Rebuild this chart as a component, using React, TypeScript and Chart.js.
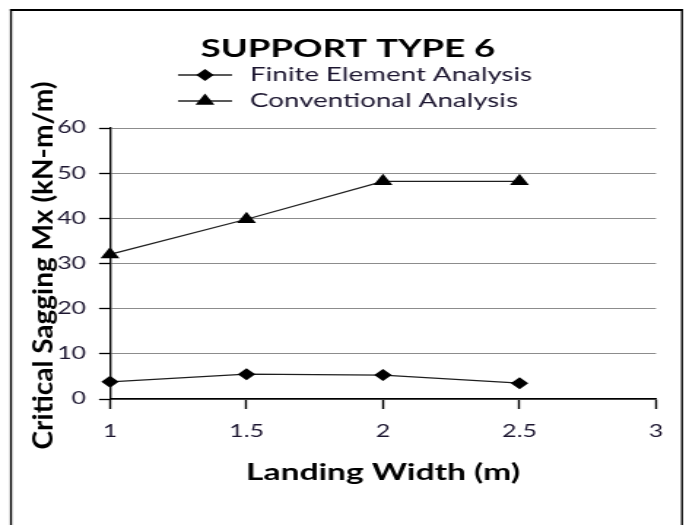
import React, { useEffect, useRef } from 'react';
import { Chart, registerables } from 'chart.js';

Chart.register(...registerables);

// ---- data ----
const xValues = [1, 1.5, 2, 2.5];
const feaValues = [3.8, 5.5, 5.3, 3.5];
const convValues = [32, 39.8, 48.2, 48.2];
const seriesNames = ['Finite Element Analysis', 'Conventional Analysis'];
const xTicks = [1, 1.5, 2, 2.5, 3];
const yTicks = [0, 10, 20, 30, 40, 50, 60];
const chartTitle = 'SUPPORT TYPE 6';
const xTitle = 'Landing Width (m)';
const yTitle = 'Critical Sagging Mx (kN-m/m)';

// ---- layout (screen px; the canvas is stretched horizontally like the reference) ----
const W = 686;
const H = 525;
const IW = 470;
const SX = W / IW;
const ix = (x: number) => x / SX;

const FONT = 'Lato';

const decor = {
  id: 'decor',
  afterDraw(chart: any) {
    const ctx = chart.ctx as CanvasRenderingContext2D;
    ctx.save();
    ctx.fillStyle = '#000';
    // frame
    ctx.fillRect(ix(10), 9, ix(2), H);
    ctx.fillRect(ix(681), 9, ix(2), H);
    ctx.fillRect(ix(10), 9, ix(683) - ix(10), 2);
    // title
    ctx.font = `bold 25px ${FONT}`;
    ctx.textAlign = 'center';
    ctx.textBaseline = 'alphabetic';
    ctx.fillText(chartTitle, ix(348), 57);
    // y axis title (drawn without horizontal stretch)
    const area = chart.chartArea;
    ctx.save();
    ctx.translate(ix(44), (area.top + area.bottom) / 2 + 2);
    ctx.scale(1 / SX, 1);
    ctx.rotate(-Math.PI / 2);
    ctx.font = `bold 28px ${FONT}`;
    ctx.textAlign = 'center';
    ctx.textBaseline = 'middle';
    ctx.fillStyle = '#000';
    ctx.fillText(yTitle, 0, 0);
    ctx.restore();
    // legend
    const rows = [75, 101];
    chart.data.datasets.forEach((ds: any, i: number) => {
      const y = rows[i];
      const cx = ix(205);
      ctx.strokeStyle = '#222';
      ctx.lineWidth = 1.4;
      ctx.beginPath();
      ctx.moveTo(ix(178), y);
      ctx.lineTo(ix(232), y);
      ctx.stroke();
      ctx.fillStyle = '#000';
      ctx.beginPath();
      const r = ds.pointRadius;
      if (ds.pointStyle === 'triangle') {
        ctx.moveTo(cx, y - r);
        ctx.lineTo(cx + r * 0.866, y + r / 2);
        ctx.lineTo(cx - r * 0.866, y + r / 2);
      } else {
        ctx.moveTo(cx, y - r);
        ctx.lineTo(cx + r, y);
        ctx.lineTo(cx, y + r);
        ctx.lineTo(cx - r, y);
      }
      ctx.closePath();
      ctx.fill();
      ctx.fillStyle = '#1c1630';
      ctx.font = `19px ${FONT}`;
      ctx.textAlign = 'left';
      ctx.textBaseline = 'alphabetic';
      ctx.fillText(ds.label, ix(250), y + 6);
    });
    ctx.restore();
  },
};

export default function App() {
  const ref = useRef<HTMLCanvasElement | null>(null);

  useEffect(() => {
    const canvas = ref.current;
    if (!canvas) return;
    const chart = new Chart(canvas, {
      type: 'line',
      data: {
        datasets: [
          {
            label: seriesNames[0],
            data: xValues.map((x, i) => ({ x, y: feaValues[i] })),
            borderColor: '#1e1e1e',
            backgroundColor: '#000',
            borderWidth: 1.3,
            pointStyle: 'rectRot',
            pointRadius: 6,
            pointBackgroundColor: '#000',
            pointBorderColor: '#000',
            pointBorderWidth: 0,
            tension: 0,
            clip: false,
          },
          {
            label: seriesNames[1],
            data: xValues.map((x, i) => ({ x, y: convValues[i] })),
            borderColor: '#1e1e1e',
            backgroundColor: '#000',
            borderWidth: 1.3,
            pointStyle: 'triangle',
            pointRadius: 7.5,
            pointBackgroundColor: '#000',
            pointBorderColor: '#000',
            pointBorderWidth: 0,
            tension: 0,
            clip: false,
          },
        ],
      },
      options: {
        animation: false,
        responsive: false,
        devicePixelRatio: 1,
        events: [],
        layout: { padding: { left: 0, top: 128, right: IW - ix(656), bottom: 26 } },
        plugins: {
          legend: { display: false },
          title: { display: false },
          tooltip: { enabled: false },
        },
        scales: {
          x: {
            type: 'linear',
            min: 1,
            max: 3,
            afterBuildTicks: (s: any) => {
              s.ticks = xTicks.map((v) => ({ value: v }));
            },
            afterFit: (s: any) => {
              s.height = 100;
            },
            ticks: {
              callback: (v: any) => String(v),
              font: { family: FONT, size: 17 },
              color: '#1c1630',
              padding: 12.8,
              maxRotation: 0,
              autoSkip: false,
            },
            grid: {
              drawOnChartArea: false,
              drawTicks: true,
              tickLength: 10,
              tickColor: '#000',
              tickWidth: 1.4,
            },
            border: { color: '#000', width: 1.5 },
            title: {
              display: true,
              text: xTitle,
              font: { family: FONT, size: 23, weight: 'bold' },
              color: '#000',
              padding: { top: 0, bottom: 12.2 },
            },
          },
          y: {
            type: 'linear',
            min: 0,
            max: 60,
            afterBuildTicks: (s: any) => {
              s.ticks = yTicks.map((v) => ({ value: v }));
            },
            afterFit: (s: any) => {
              s.width = ix(110);
            },
            ticks: {
              font: { family: FONT, size: 17 },
              color: '#1c1630',
              padding: ix(13),
            },
            grid: {
              color: '#8c8c8c',
              lineWidth: 1,
              drawTicks: true,
              tickLength: ix(11),
              tickColor: '#000',
              tickWidth: 1.3,
            },
            border: { color: '#000', width: ix(2) },
            title: { display: false },
          },
        },
      },
      plugins: [decor],
    } as any);

    let alive = true;
    if ((document as any).fonts) {
      Promise.all([
        document.fonts.load(`bold 25px ${FONT}`),
        document.fonts.load(`19px ${FONT}`),
      ]).then(() => {
        if (alive) chart.update();
      }).catch(() => {});
    }
    return () => {
      alive = false;
      chart.destroy();
    };
  }, []);

  return (
    <div style={{ position: 'absolute', left: 0, top: 0, width: W, height: H, background: '#fff' }}>
      <canvas ref={ref} width={IW} height={H} style={{ width: W, height: H, display: 'block' }} />
    </div>
  );
}
